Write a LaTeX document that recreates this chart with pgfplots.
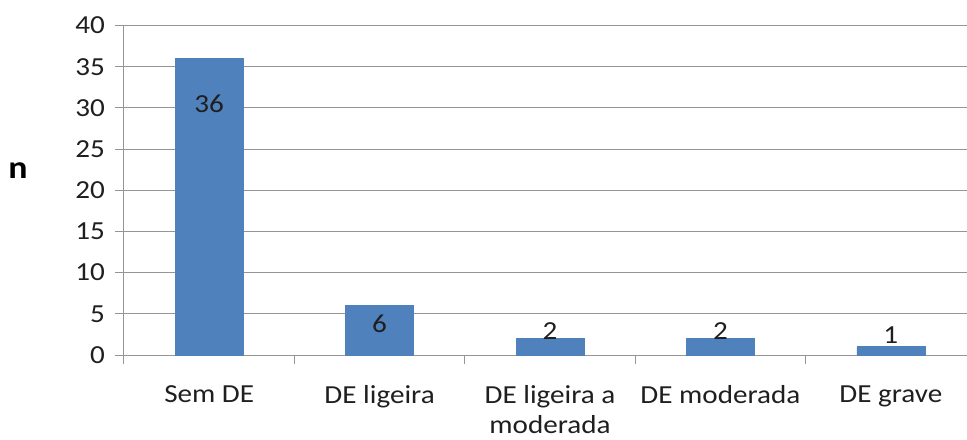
\documentclass[border=0pt]{standalone}
\usepackage{pgfplots}
\pgfplotsset{compat=1.18}
\usepackage{fontspec}
\setmainfont{Carlito}[FakeStretch=1.12]
\definecolor{barblue}{HTML}{4F81BD}
\definecolor{gridgray}{HTML}{959595}
\begin{document}
\begin{tikzpicture}
\begin{axis}[
  at={(0,0)}, anchor=south west,
  scale only axis,
  width=632.25pt, height=247.1pt,
  xmin=-0.5, xmax=4.447,
  ymin=0, ymax=40,
  ytick={0,5,...,40},
  xtick={0,1,2,3,4},
  xticklabels={Sem DE, DE ligeira, {DE ligeira a\\moderada}, DE moderada, DE grave},
  minor xtick={-0.5,0.5,1.5,2.5,3.5},
  axis x line*=bottom, axis y line*=left,
  axis line style={gridgray, line width=0.75pt},
  every tick/.style={gridgray, line width=0.75pt},
  tick align=outside,
  major tick length=6.75pt,
  minor tick length=6.75pt,
  x tick style={draw=none},
  minor x tick style={draw=gridgray, line width=0.75pt},
  ymajorgrids,
  grid style={gridgray, line width=0.75pt},
  /pgf/number format/assume math mode=true,
  tick label style={font=\fontsize{19.5}{24}\selectfont, text=black!88},
  xticklabel style={align=center, anchor=north, inner sep=0pt, yshift=-16pt, font=\fontsize{19.5}{22.5}\selectfont},
  yticklabel style={anchor=east, xshift=-4pt},
  ylabel={n},
  ylabel style={at={(axis description cs:-0.1257,0.56)}, rotate=-90, anchor=center, font=\fontsize{24}{28}\selectfont\bfseries},
  clip=false,
]
\addplot[ybar, bar width=51pt, fill=barblue, draw=barblue] coordinates {
  (0,36) (1,6) (2,2) (3,2) (4,1)
};
\addplot[draw=none, mark=none, nodes near coords, point meta=explicit symbolic,
  every node near coord/.append style={anchor=center, font=\fontsize{19.5}{24}\selectfont, text=black!88}]
  coordinates {
  (0,30.5) [36]
  (1,3.8) [6]
  (2,2.9) [2]
  (3,2.9) [2]
  (4,2.4) [1]
};
\end{axis}
\pgfresetboundingbox
\path[use as bounding box] (-93pt,-63pt) rectangle (632.25pt,266.25pt);
\end{tikzpicture}
\end{document}
